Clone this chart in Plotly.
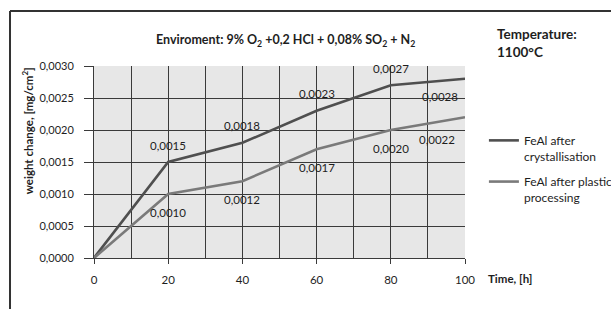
import plotly.graph_objects as go

time_h = [0, 20, 40, 60, 80, 100]
cryst = [0.0, 0.0015, 0.0018, 0.0023, 0.0027, 0.0028]
plastic = [0.0, 0.0010, 0.0012, 0.0017, 0.0020, 0.0022]
cryst_labels = ["", "0,0015", "0,0018", "0,0023", "0,0027", "0,0028"]
plastic_labels = ["", "0,0010", "0,0012", "0,0017", "0,0020", "0,0022"]
x_ticks = [0, 20, 40, 60, 80, 100]
y_ticks = [0, 0.0005, 0.0010, 0.0015, 0.0020, 0.0025, 0.0030]

FONT = "Lato"
TXT = "#1e1e1e"
GRID = "#3a3a3a"

fig = go.Figure()
fig.add_trace(go.Scatter(
    x=time_h, y=cryst, mode="lines", name="FeAl after<br>crystallisation", legendgroup="a",
    line=dict(color="#4f4f4f", width=2.6)))
fig.add_trace(go.Scatter(
    x=time_h, y=plastic, mode="lines", name="FeAl after plastic<br>processing", legendgroup="b",
    line=dict(color="#7a7a7a", width=2.6)))

# data labels (crystallisation above the line, plastic below; last point of each below-left)
for i, (xv, yv, lab) in enumerate(zip(time_h, cryst, cryst_labels)):
    if not lab:
        continue
    last = i == len(time_h) - 1
    fig.add_annotation(x=xv, y=yv, text=lab, showarrow=False,
                       xshift=-25 if last else 0, yshift=-18 if last else 17,
                       font=dict(size=11.5, color=TXT, family=FONT))
for i, (xv, yv, lab) in enumerate(zip(time_h, plastic, plastic_labels)):
    if not lab:
        continue
    last = i == len(time_h) - 1
    fig.add_annotation(x=xv, y=yv, text=lab, showarrow=False,
                       xshift=-28 if last else 0, yshift=-22 if last else -18,
                       font=dict(size=11.5, color=TXT, family=FONT))

fig.update_layout(
    width=611, height=309,
    margin=dict(l=94, r=146, t=66, b=51, autoexpand=False),
    paper_bgcolor="white", plot_bgcolor="#e7e7e7",
    separators=", ",
    font=dict(family=FONT, size=11, color=TXT),
    showlegend=True,
    legend=dict(xref="container", yref="container", x=0.792, y=0.592,
                xanchor="left", yanchor="top", valign="top",
                font=dict(size=12, family=FONT, color=TXT), tracegroupgap=7,
                itemwidth=30, bgcolor="rgba(0,0,0,0)"),
    xaxis=dict(range=[0, 100], tickvals=x_ticks, showgrid=True,
               gridcolor=GRID, gridwidth=1,
               minor=dict(dtick=10, tick0=0, showgrid=True, gridcolor=GRID, gridwidth=1),
               showline=True, linecolor=GRID, linewidth=1, ticks="outside", ticklen=5,
               tickcolor=GRID, zeroline=False, tickfont=dict(size=11.5), fixedrange=True,
               ticklabelstandoff=6, automargin=False),
    yaxis=dict(range=[0, 0.003], tickvals=y_ticks, tickformat=".4f", showgrid=True,
               gridcolor=GRID, gridwidth=1, showline=True, linecolor=GRID, linewidth=1,
               ticks="outside", ticklen=9, tickcolor=GRID, zeroline=False,
               tickfont=dict(size=11), fixedrange=True, ticklabelstandoff=8,
               automargin=False),
)

fig.add_annotation(xref="paper", yref="paper", x=-0.18, y=0.661, showarrow=False, textangle=-90,
                   text="<b>weight change, [mg/cm<sup>2</sup>]</b>",
                   font=dict(size=11.5), xanchor="center", yanchor="middle")
fig.add_annotation(xref="paper", yref="paper", x=0.515, y=1.0, yshift=26, showarrow=False,
                   text="<b>Enviroment: 9% O<sub>2</sub> +0,2 HCl + 0,08% SO<sub>2</sub> + N<sub>2</sub></b>",
                   font=dict(size=12.5), xanchor="center", yanchor="middle")
fig.add_annotation(xref="paper", yref="paper", x=1.0, y=1.0, xshift=30, yshift=23, showarrow=False,
                   text="<b>Temperature:<br>1100°C</b>", align="left",
                   font=dict(size=13.5), xanchor="left", yanchor="middle")
fig.add_annotation(xref="paper", yref="paper", x=1.0, y=0.0, xshift=21, yshift=-20, showarrow=False,
                   text="<b>Time, [h]</b>", font=dict(size=11.5), xanchor="left", yanchor="middle")
# outer frame (top and left edges visible)
fig.add_shape(type="line", xref="paper", yref="paper", x0=-0.2264, x1=-0.2264, y0=-1, y1=1.2865,
              line=dict(color="#333", width=2))
fig.add_shape(type="line", xref="paper", yref="paper", x0=-0.2264, x1=2, y0=1.2865, y1=1.2865,
              line=dict(color="#333", width=2))

fig.write_html("out.html", config={"displayModeBar": False},
               post_script="document.body.style.margin='0';document.body.style.overflow='hidden';")
